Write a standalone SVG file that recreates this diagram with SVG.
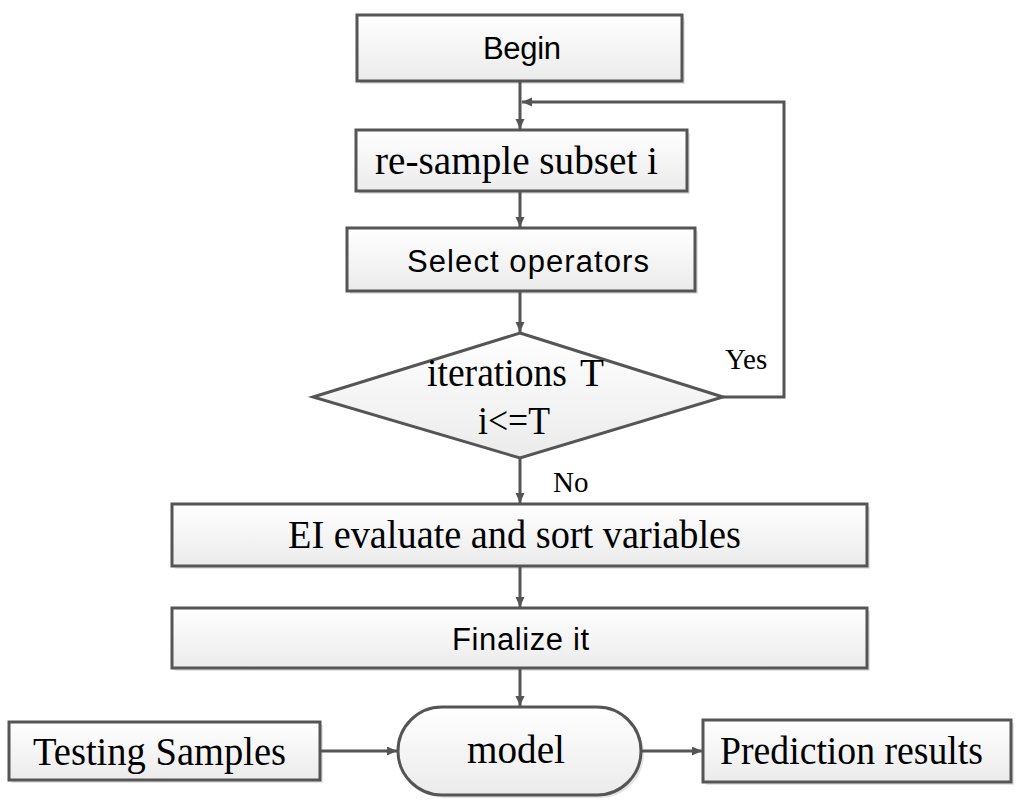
<svg xmlns="http://www.w3.org/2000/svg" width="1024" height="807" viewBox="0 0 1024 807">
<defs>
<linearGradient id="g" x1="0" y1="0" x2="0" y2="1">
<stop offset="0" stop-color="#ffffff"/>
<stop offset="1" stop-color="#ebebeb"/>
</linearGradient>
<marker id="ah" markerUnits="userSpaceOnUse" markerWidth="12" markerHeight="10" refX="10" refY="4.5" orient="auto">
<path d="M0,0 L10,4.5 L0,9 Z" fill="#555"/>
</marker>
</defs>
<style>
.box{fill:url(#g);stroke:#555;stroke-width:3}
.sh{fill:#e4e4e4}
.sans{font-family:"Liberation Sans",Arial,sans-serif;font-size:31px;fill:#000}
.serif{font-family:"Liberation Serif","Times New Roman",serif;font-size:41px;fill:#000}
.lbl{font-family:"Liberation Serif","Times New Roman",serif;font-size:29px;fill:#000}
.c{fill:none;stroke:#555;stroke-width:3}
</style>
<rect width="1024" height="807" fill="#fff"/>

<g id="begin">
<rect class="sh" x="360" y="18" width="325" height="66"/>
<rect class="box" x="357" y="15" width="325" height="66"/>
<text class="sans" x="522" y="59" text-anchor="middle" textLength="78">Begin</text>
</g>

<g id="resample">
<rect class="sh" x="359" y="133" width="331" height="61"/>
<rect class="box" x="356" y="130" width="331" height="61"/>
<text class="serif" x="375" y="174" textLength="283" lengthAdjust="spacingAndGlyphs">re-sample subset i</text>
</g>

<g id="select">
<rect class="sh" x="350" y="231" width="348" height="63"/>
<rect class="box" x="347" y="228" width="348" height="63"/>
<text class="sans" x="407" y="272" textLength="242">Select operators</text>
</g>

<g id="decision">
<polygon points="520,333 723,397 520,458 313,397" class="box"/>
<text class="serif" x="427" y="386" textLength="140" lengthAdjust="spacingAndGlyphs">iterations</text>
<text class="serif" x="580" y="386" textLength="24" lengthAdjust="spacingAndGlyphs">T</text>
<text class="serif" x="478" y="434" textLength="72" lengthAdjust="spacingAndGlyphs">i&lt;=T</text>
</g>

<g id="ei">
<rect class="sh" x="175" y="507" width="695" height="62"/>
<rect class="box" x="172" y="504" width="695" height="62"/>
<text class="serif" x="288" y="548" textLength="453" lengthAdjust="spacingAndGlyphs">EI evaluate and sort variables</text>
</g>

<g id="finalize">
<rect class="sh" x="175" y="611" width="695" height="60"/>
<rect class="box" x="172" y="608" width="695" height="60"/>
<text class="sans" x="452" y="650" textLength="137">Finalize it</text>
</g>

<g id="model">
<rect class="sh" x="401" y="710" width="243" height="88" rx="44"/>
<rect class="box" x="398" y="707" width="243" height="88" rx="44"/>
<text class="serif" x="467" y="763" textLength="98" lengthAdjust="spacingAndGlyphs">model</text>
</g>

<g id="testing">
<rect class="sh" x="12" y="725" width="311" height="58"/>
<rect class="box" x="9" y="722" width="311" height="58"/>
<text class="serif" x="33" y="765" textLength="253" lengthAdjust="spacingAndGlyphs">Testing Samples</text>
</g>

<g id="prediction">
<rect class="sh" x="706" y="723" width="308" height="62"/>
<rect class="box" x="703" y="720" width="308" height="62"/>
<text class="serif" x="720" y="764" textLength="263" lengthAdjust="spacingAndGlyphs">Prediction results</text>
</g>

<g id="connectors">
<line class="c" x1="520" y1="82" x2="520" y2="129" marker-end="url(#ah)"/>
<polyline class="c" points="723,397 784,397 784,102 522,102" marker-end="url(#ah)"/>
<line class="c" x1="520" y1="192" x2="520" y2="227" marker-end="url(#ah)"/>
<line class="c" x1="520" y1="292" x2="520" y2="332" marker-end="url(#ah)"/>
<line class="c" x1="520" y1="459" x2="520" y2="503" marker-end="url(#ah)"/>
<line class="c" x1="520" y1="567" x2="520" y2="607" marker-end="url(#ah)"/>
<line class="c" x1="520" y1="669" x2="520" y2="706" marker-end="url(#ah)"/>
<line class="c" x1="321" y1="751" x2="397" y2="751" marker-end="url(#ah)"/>
<line class="c" x1="642" y1="751" x2="702" y2="751" marker-end="url(#ah)"/>
<text class="lbl" x="725" y="369">Yes</text>
<text class="lbl" x="553" y="492">No</text>
</g>
</svg>
